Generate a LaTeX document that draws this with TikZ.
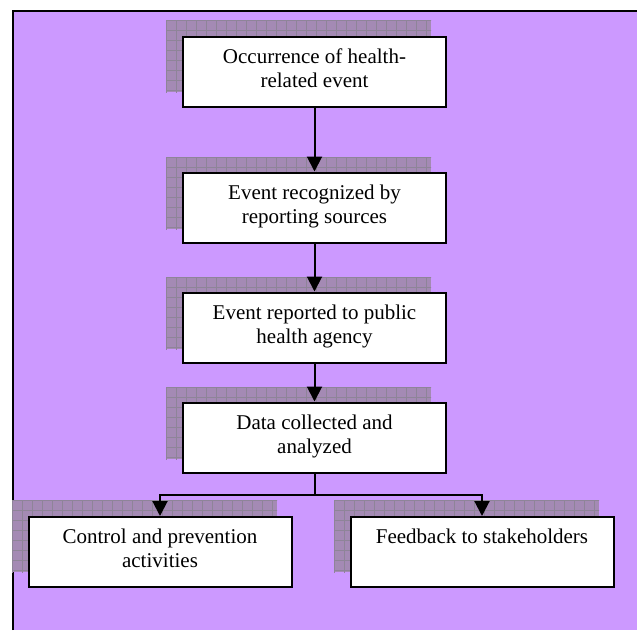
\documentclass[tikz,border=0pt]{standalone}
\usepackage{fontspec}
\setmainfont{Liberation Serif}
\usetikzlibrary{arrows.meta}
\definecolor{bgpurple}{RGB}{204,153,255}
\definecolor{shadowfill}{RGB}{164,138,180}
\definecolor{shadowgrid}{RGB}{142,132,152}
\newcommand\myshadow[2]{%
  \begin{scope}
    \clip (#1,#2) rectangle ++(265,72);
    \fill[shadowfill] (#1,#2) rectangle ++(265,72);
    \draw[shadowgrid, line width=0.6pt, step=10pt, shift={(#1pt,-#2pt)}] (0,0) grid (270pt,-80pt);
  \end{scope}}
\begin{document}
\begin{tikzpicture}[x=1pt,y=-1pt,
  stepbox/.style={draw=black, fill=white, line width=2pt, minimum width=263pt, minimum height=70pt,
    align=center, inner sep=0pt, font=\fontsize{21}{24}\selectfont},
  flow/.style={line width=2pt, -{Triangle[width=15pt,length=15pt]}},
  plain/.style={line width=2pt}]
\useasboundingbox (0,0) rectangle (637,630);
\fill[white] (0,0) rectangle (637,630);
\fill[bgpurple] (12,10) rectangle (637,630);
\draw[line width=1.5pt] (12.75,630) -- (12.75,10.75) -- (637,10.75);
% shadows
\myshadow{166}{20}
\myshadow{166}{157}
\myshadow{166}{277}
\myshadow{166}{387}
\myshadow{12}{500}
\myshadow{334}{500}
% boxes
\node[stepbox] (b1) at (314.5,71.5) {Occurrence of health-\\related event\strut};
\node[stepbox] (b2) at (314.5,207.5) {Event recognized by\\reporting sources\strut};
\node[stepbox] (b3) at (314.5,327.5) {Event reported to public\\health agency\strut};
\node[stepbox] (b4) at (314.5,437.5) {Data collected and\\analyzed\strut};
\node[stepbox] (b5) at (160,552) {Control and prevention\\activities\strut};
\node[stepbox] (b6) at (482,552) {Feedback to stakeholders\\\strut};
\coordinate (fork) at (314.5,495);
\draw[flow] (b1.south) -- (b2.north);
\draw[flow] (b2.south) -- (b3.north);
\draw[flow] (b3.south) -- (b4.north);
\draw[plain] (b4.south) -- (fork);
\draw[flow] (fork) -| (b5.north);
\draw[flow] (fork) -| (b6.north);
\end{tikzpicture}
\end{document}
